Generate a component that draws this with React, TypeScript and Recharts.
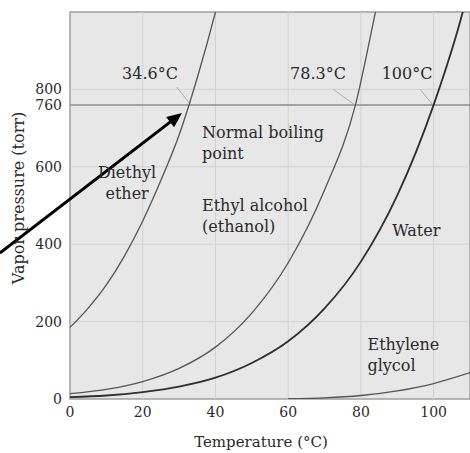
import React from 'react';
import { LineChart, Line, XAxis, YAxis, ReferenceLine, ReferenceArea, ReferenceDot } from 'recharts';

const tempTicks = [0, 20, 40, 60, 80, 100];
const pressureTicks = [0, 200, 400, 600, 760, 800];
const gridTemps = [20, 40, 60, 80, 100];
const gridPressures = [200, 400, 600, 800];

const diethylEther = [
  { t: 0, p: 185 }, { t: 5, p: 235 }, { t: 10, p: 295 }, { t: 15, p: 370 },
  { t: 20, p: 460 }, { t: 25, p: 565 }, { t: 30, p: 682 }, { t: 35, p: 830 },
  { t: 40, p: 1000 }, { t: 42, p: 1075 },
];
const ethanol = [
  { t: 0, p: 14 }, { t: 10, p: 25 }, { t: 20, p: 45 }, { t: 30, p: 79 },
  { t: 40, p: 134 }, { t: 50, p: 222 }, { t: 60, p: 352 }, { t: 70, p: 540 },
  { t: 78.5, p: 760 }, { t: 84, p: 1000 }, { t: 86, p: 1090 },
];
const water = [
  { t: 0, p: 5 }, { t: 10, p: 9 }, { t: 20, p: 18 }, { t: 30, p: 32 },
  { t: 40, p: 55 }, { t: 50, p: 93 }, { t: 60, p: 149 }, { t: 70, p: 234 },
  { t: 80, p: 355 }, { t: 90, p: 526 }, { t: 100, p: 760 }, { t: 108, p: 1000 },
  { t: 110, p: 1075 },
];
const ethyleneGlycol = [
  { t: 60, p: 1 }, { t: 70, p: 3 }, { t: 80, p: 9 }, { t: 90, p: 21 },
  { t: 100, p: 40 }, { t: 110, p: 68 },
];

const annotations = [
  { t: 22, p: 842, lines: ['34.6°C'], anchor: 'middle' },
  { t: 68.2, p: 842, lines: ['78.3°C'], anchor: 'middle' },
  { t: 92.7, p: 842, lines: ['100°C'], anchor: 'middle' },
  { t: 36.3, p: 690, lines: ['Normal boiling', 'point'], anchor: 'start' },
  { t: 15.7, p: 585, lines: ['Diethyl', 'ether'], anchor: 'middle' },
  { t: 36.3, p: 500, lines: ['Ethyl alcohol', '(ethanol)'], anchor: 'start' },
  { t: 88.6, p: 436, lines: ['Water'], anchor: 'start' },
  { t: 81.8, p: 140, lines: ['Ethylene', 'glycol'], anchor: 'start' },
];

const leaders = [
  { t1: 29.4, p1: 806, t2: 33, p2: 762 },
  { t1: 72.4, p1: 800, t2: 78, p2: 762 },
  { t1: 96.3, p1: 800, t2: 99.6, p2: 762 },
];

const arrow = { t1: -19.3, p1: 377, t2: 30.8, p2: 739 };

const FONT = '"DejaVu Serif", serif';
const TEXT = '#2a2a2a';

const TextShape = (lines: string[], anchor: string) => (props: any) => {
  const { cx, cy } = props;
  return (
    <text x={cx} y={cy} textAnchor={anchor} fontFamily={FONT} fontSize={16} fill={TEXT}>
      {lines.map((l, i) => (
        <tspan key={i} x={cx} dy={i === 0 ? '0.35em' : 21}>{l}</tspan>
      ))}
    </text>
  );
};

const ArrowShape = (props: any) => {
  const { x1, y1, x2, y2 } = props;
  const dx = x2 - x1;
  const dy = y2 - y1;
  const len = Math.sqrt(dx * dx + dy * dy);
  const ux = dx / len;
  const uy = dy / len;
  const hl = 15;
  const hw = 6.5;
  const bx = x2 - ux * hl;
  const by = y2 - uy * hl;
  const pts = `${x2},${y2} ${bx - uy * hw},${by + ux * hw} ${bx + uy * hw},${by - ux * hw}`;
  return (
    <g>
      <line x1={x1} y1={y1} x2={bx + ux * 2} y2={by + uy * 2} stroke="#000" strokeWidth={3} />
      <polygon points={pts} fill="#000" />
    </g>
  );
};

export default function App() {
  return (
    <div style={{ position: 'absolute', left: 0, top: 0, width: 470, height: 453, background: '#fff' }}>
      <LineChart width={470} height={453} margin={{ top: 12, right: 0, bottom: 0, left: 0 }}>
        <XAxis
          type="number"
          dataKey="t"
          domain={[0, 110]}
          ticks={tempTicks}
          allowDataOverflow
          axisLine={false}
          tickLine={false}
          height={54}
          interval={0}
          tick={{ fontFamily: FONT, fontSize: 14, fill: TEXT }}
          label={{
            content: () => (
              <text x={261} y={442} dy="0.35em" textAnchor="middle" fontFamily={FONT} fontSize={15} fill={TEXT}>
                Temperature (°C)
              </text>
            ),
          }}
        />
        <YAxis
          type="number"
          dataKey="p"
          domain={[0, 1000]}
          ticks={pressureTicks}
          allowDataOverflow
          axisLine={false}
          tickLine={false}
          width={70}
          interval={0}
          tick={{ fontFamily: FONT, fontSize: 14, fill: TEXT }}
          label={{
            content: () => (
              <text
                x={18}
                y={198}
                dy="0.35em"
                textAnchor="middle"
                transform="rotate(-90 18 198)"
                fontFamily={FONT}
                fontSize={16}
                fill={TEXT}
              >
                Vapor pressure (torr)
              </text>
            ),
          }}
        />
        <ReferenceArea x1={0} x2={110} y1={0} y2={1000} fill="#e7e7e7" fillOpacity={1} stroke="#a0a0a0" strokeWidth={1.5} />
        {gridTemps.map((t) => (
          <ReferenceLine key={'gx' + t} x={t} stroke="#d2d2d2" strokeWidth={1} />
        ))}
        {gridPressures.map((p) => (
          <ReferenceLine key={'gy' + p} y={p} stroke="#d2d2d2" strokeWidth={1} />
        ))}
        <ReferenceLine y={760} stroke="#8c8c8c" strokeWidth={1.5} />
        {leaders.map((l, i) => (
          <ReferenceLine
            key={'ld' + i}
            segment={[{ x: l.t1, y: l.p1 }, { x: l.t2, y: l.p2 }]}
            stroke="#a8a8a8"
            strokeWidth={1}
          />
        ))}
        <Line data={diethylEther} dataKey="p" type="monotone" stroke="#555" strokeWidth={1.3} dot={false} isAnimationActive={false} />
        <Line data={ethanol} dataKey="p" type="monotone" stroke="#555" strokeWidth={1.3} dot={false} isAnimationActive={false} />
        <Line data={water} dataKey="p" type="monotone" stroke="#2e2e2e" strokeWidth={1.8} dot={false} isAnimationActive={false} />
        <Line data={ethyleneGlycol} dataKey="p" type="monotone" stroke="#555" strokeWidth={1.3} dot={false} isAnimationActive={false} />
        {annotations.map((a, i) => (
          <ReferenceDot key={'an' + i} x={a.t} y={a.p} r={0} shape={TextShape(a.lines, a.anchor)} />
        ))}
        <ReferenceLine
          segment={[{ x: arrow.t1, y: arrow.p1 }, { x: arrow.t2, y: arrow.p2 }]}
          ifOverflow="visible"
          shape={ArrowShape}
        />
      </LineChart>
    </div>
  );
}
